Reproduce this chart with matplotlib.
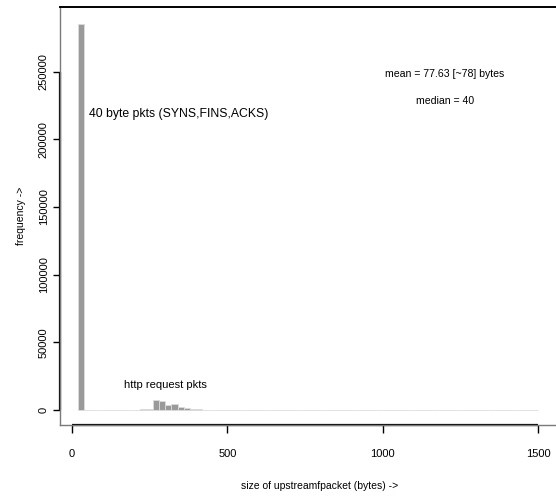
import matplotlib
matplotlib.use('Agg')
import matplotlib.pyplot as plt
import numpy as np

# histogram of upstream packet sizes, bins of 20 bytes
bin_width = 20
bin_starts = list(range(20, 1500, bin_width))
nonzero_counts = {
    20: 285000,
    220: 500,
    240: 1000,
    260: 7400,
    280: 6900,
    300: 3700,
    320: 4400,
    340: 2000,
    360: 1500,
    380: 700,
    400: 700,
}
counts = [nonzero_counts.get(b, 0) for b in bin_starts]

x_ticks = [0, 500, 1000, 1500]
y_ticks = [0, 50000, 100000, 150000, 200000, 250000]

notes = [
    (55, 219000, "40 byte pkts (SYNS,FINS,ACKS)", "left", 8.8),
    (300, 18500, "http request pkts", "center", 8),
    (1200, 248500, "mean = 77.63 [~78] bytes", "center", 7.6),
    (1200, 228000, "median = 40", "center", 7.6),
]

plt.rcParams['font.family'] = ['Liberation Sans', 'DejaVu Sans']

fig = plt.figure(figsize=(5.56, 4.99), dpi=100)
ax = fig.add_axes([60 / 556, 74 / 499, 520 / 556, 418 / 499])

ax.bar(bin_starts, counts, width=bin_width, align='edge',
       color='#9a9a9a', edgecolor='#dcdcdc', linewidth=0.6)

ax.set_xlim(-38.6, -38.6 + 520 / 0.3107)
ax.set_ylim(-11100, 297800)

# box in grey, axis lines in black (R style)
for side in ['left', 'bottom', 'top', 'right']:
    ax.spines[side].set_color('#7a7a7a')
    ax.spines[side].set_linewidth(1.0)
ax.spines['top'].set_color('black')
ax.spines['top'].set_linewidth(1.4)
ax.hlines(ax.get_ylim()[0], x_ticks[0], x_ticks[-1], color='black', lw=1.6, clip_on=False)
ax.vlines(ax.get_xlim()[0], y_ticks[0], y_ticks[-1], color='black', lw=1.6, clip_on=False)

ax.set_xticks(x_ticks)
ax.set_xticklabels([str(t) for t in x_ticks])
ax.set_yticks(y_ticks)
ax.set_yticklabels([str(t) for t in y_ticks], rotation=90, va='center')
ax.tick_params(axis='x', length=6, width=1, pad=11, labelsize=8)
ax.tick_params(axis='y', length=5, width=1, pad=3, labelsize=8)

ax.set_xlabel('size of upstreamfpacket (bytes) ->', fontsize=7.5, labelpad=16)
ax.set_ylabel('frequency ->', fontsize=7.5, labelpad=9)

for x, y, s, ha, fs in notes:
    ax.text(x, y, s, ha=ha, va='center', fontsize=fs)

fig.savefig('out.png', dpi=100)
